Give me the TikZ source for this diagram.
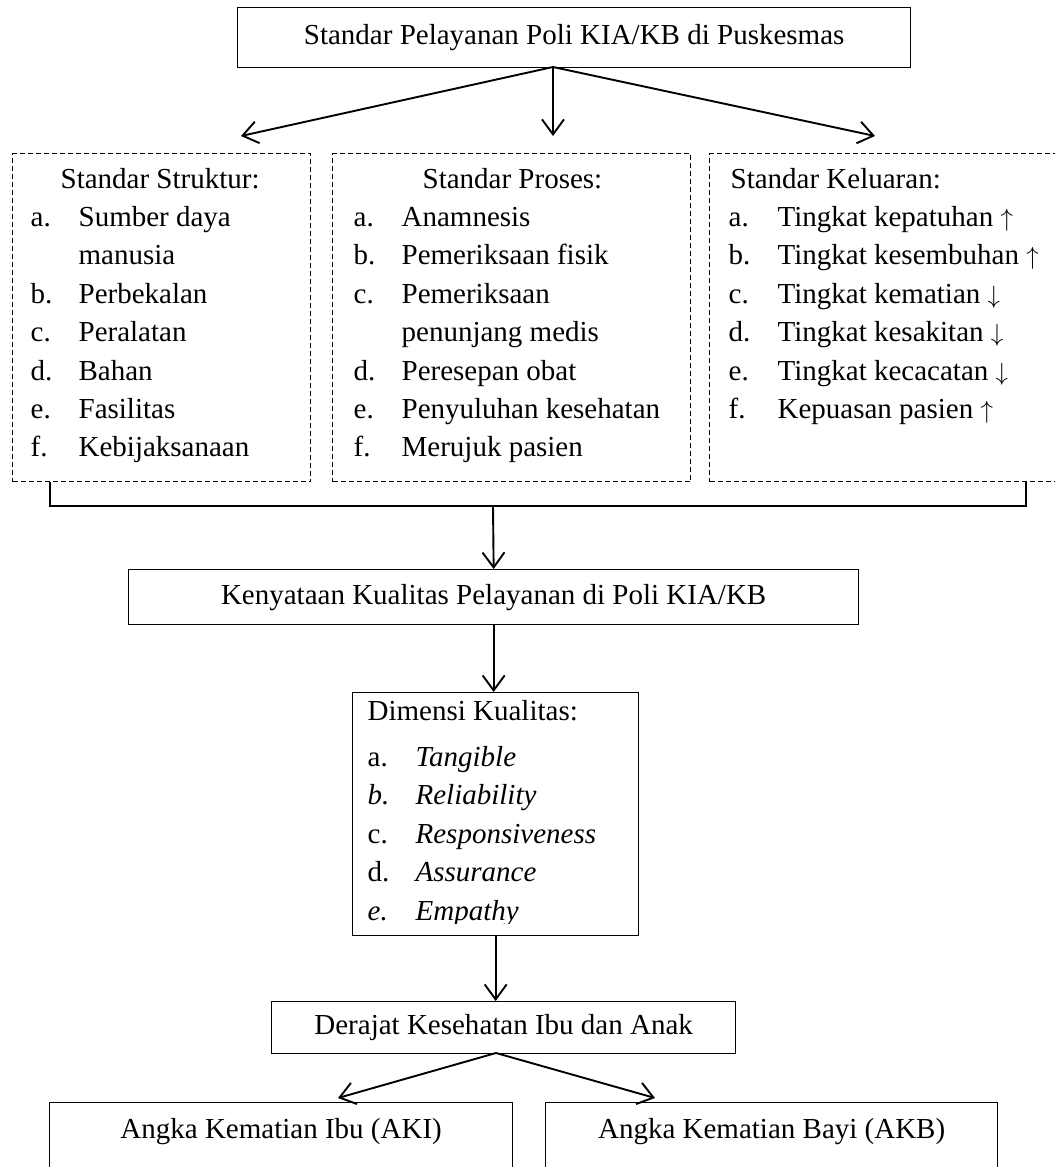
\documentclass[tikz,border=0pt]{standalone}
\usepackage{fontspec}
\setmainfont{Liberation Serif}
\usetikzlibrary{arrows.meta, positioning}

\newcommand{\naik}{\ \ensuremath{\uparrow}}
\newcommand{\turun}{\ \ensuremath{\downarrow}}

\begin{document}
\begin{tikzpicture}[> = {Straight Barb[length=15pt, width=22pt]}, % arrow head style
                x = 1pt, y = -1pt, % one unit is one pixel of the sketch
                line width = 1.3pt, % line style
                font = \fontsize{29}{38.4}\selectfont
            ]

            \tikzstyle{box}=[draw = black, rectangle, inner sep = 0pt,
            anchor = north west]
            \tikzstyle{dashbox}=[box, dash pattern = on 5pt off 3pt]
            \tikzstyle{list}=[inner sep = 0pt, anchor = base west]
            \tikzstyle{link}=[->, line width = 1.9pt]

            \useasboundingbox (0,0) rectangle (1055,1167);
            \clip (0,0) rectangle (1055,1167);

            % boxes
            \node[box, minimum width = 673pt, minimum height = 60pt] (standar)
            at (237,7) {Standar Pelayanan Poli KIA/KB di Puskesmas};

            \node[dashbox, minimum width = 298pt, minimum height = 328pt]
            (struktur) at (12,153) {};
            \node[dashbox, minimum width = 358pt, minimum height = 328pt]
            (proses) at (332,153) {};
            \node[dashbox, minimum width = 366pt, minimum height = 328pt]
            (keluaran) at (709,153) {};

            \node[list] (strukturlist) at (30,188) {%
              \begin{tabular}[t]{@{}p{48pt}@{}l@{}}
                \multicolumn{2}{@{}l@{}}{\hspace*{30pt}Standar Struktur:}\\
                a. & Sumber daya\\ & manusia\\ b. & Perbekalan\\
                c. & Peralatan\\ d. & Bahan\\ e. & Fasilitas\\
                f. & Kebijaksanaan
              \end{tabular}};
            \node[list] (proseslist) at (353,188) {%
              \begin{tabular}[t]{@{}p{48pt}@{}l@{}}
                \multicolumn{2}{@{}l@{}}{\hspace*{69pt}Standar Proses:}\\
                a. & Anamnesis\\ b. & Pemeriksaan fisik\\ c. & Pemeriksaan\\
                & penunjang medis\\ d. & Peresepan obat\\
                e. & Penyuluhan kesehatan\\ f. & Merujuk pasien
              \end{tabular}};
            \node[list] (keluaranlist) at (728,188) {%
              \begin{tabular}[t]{@{}p{49pt}@{}l@{}}
                \multicolumn{2}{@{}l@{}}{\hspace*{2pt}Standar Keluaran:}\\
                a. & Tingkat kepatuhan\naik\\ b. & Tingkat kesembuhan\naik\\
                c. & Tingkat kematian\turun\\ d. & Tingkat kesakitan\turun\\
                e. & Tingkat kecacatan\turun\\ f. & Kepuasan pasien\naik
              \end{tabular}};

            \node[box, minimum width = 730pt, minimum height = 55pt] (kenyataan)
            at (128,569) {Kenyataan Kualitas Pelayanan di Poli KIA/KB};

            \node[box, minimum width = 286pt, minimum height = 243pt] (dimensi)
            at (352,692) {};
            \begin{scope}
              \clip (352,692) rectangle (638,923);
              \node[list] (dimensilist) at (367,720) {%
                \begin{tabular}[t]{@{}p{48pt}@{}l@{}}
                  \multicolumn{2}{@{}l@{}}{Dimensi Kualitas:}\\[8pt]
                  a. & \textit{Tangible}\\ \textit{b.} & \textit{Reliability}\\
                  c. & \textit{Responsiveness}\\ d. & \textit{Assurance}\\
                  \textit{e.} & \textit{Empathy}
                \end{tabular}};
            \end{scope}

            \node[box, minimum width = 464pt, minimum height = 52pt] (derajat)
            at (271,1001) {Derajat Kesehatan Ibu dan Anak};

            \node[box, minimum width = 463pt, text height = 36pt,
            text depth = 44pt] (aki) at (49,1102) {Angka Kematian Ibu (AKI)};
            \node[box, minimum width = 452pt, text height = 36pt,
            text depth = 44pt] (akb) at (545,1102) {Angka Kematian Bayi (AKB)};

            % connectors
            \coordinate (split) at (553,67);
            \coordinate (toStruktur) at (241,136);
            \coordinate (toProses) at (553,136);
            \coordinate (toKeluaran) at (875,136);
            \path[link] (split) edge (toStruktur) edge (toProses)
            edge (toKeluaran);

            \coordinate (joinL) at (50,506); \coordinate (joinR) at (1026,506);
            \coordinate (joinM) at (493,506);
            \draw[line width = 1.9pt] (struktur.south -| joinL) -- (joinL)
            -- (joinR) -- (keluaran.south -| joinR);
            \draw[link] (joinM) -- (kenyataan.north);

            \draw[link] (kenyataan.south) -- (kenyataan.south |- dimensi.north);
            \draw[link] (dimensi.south) -- (dimensi.south |- derajat.north);

            \coordinate (fork) at (496,1053);
            \coordinate (toAki) at (338,1098);
            \coordinate (toAkb) at (655,1098);
            \path[link] (fork) edge (toAki) edge (toAkb);
        \end{tikzpicture}
\end{document}
